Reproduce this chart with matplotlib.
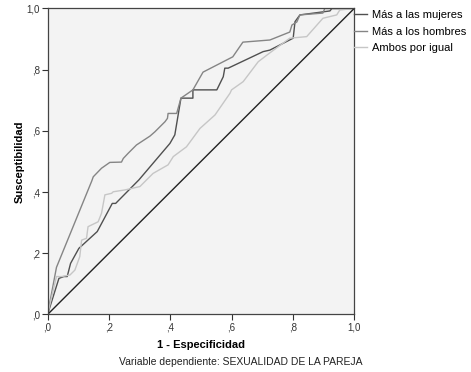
import matplotlib
matplotlib.use("Agg")
import matplotlib.pyplot as plt

plt.rcParams['font.family'] = ['Liberation Sans', 'DejaVu Sans']

# Data: ROC curves (1 - especificidad, susceptibilidad)
mujeres_x = [0, 0.037, 0.053, 0.064, 0.075, 0.102, 0.162, 0.211, 0.222, 0.298,
             0.399, 0.415, 0.435, 0.474, 0.474, 0.552, 0.573, 0.578, 0.589, 0.703,
             0.725, 0.801, 0.807, 0.823, 0.921, 0.927, 1.0]
mujeres_y = [0, 0.118, 0.124, 0.124, 0.167, 0.216, 0.271, 0.363, 0.363, 0.440,
             0.559, 0.587, 0.707, 0.707, 0.734, 0.734, 0.777, 0.805, 0.805, 0.859,
             0.864, 0.903, 0.957, 0.979, 0.992, 1.0, 1.0]

hombres_x = [0, 0.029, 0.144, 0.149, 0.176, 0.203, 0.241, 0.247, 0.263, 0.290,
             0.334, 0.350, 0.383, 0.391, 0.393, 0.421, 0.435, 0.474, 0.507, 0.604,
             0.637, 0.725, 0.790, 0.797, 0.813, 0.823, 0.898, 0.904, 1.0]
hombres_y = [0, 0.154, 0.436, 0.450, 0.478, 0.497, 0.498, 0.510, 0.527, 0.554,
             0.583, 0.597, 0.630, 0.641, 0.657, 0.657, 0.707, 0.734, 0.792, 0.842,
             0.890, 0.897, 0.923, 0.946, 0.956, 0.979, 0.985, 1.0, 1.0]

ambos_x = [0, 0.029, 0.046, 0.073, 0.089, 0.105, 0.111, 0.127, 0.132, 0.165,
           0.176, 0.187, 0.209, 0.214, 0.252, 0.301, 0.344, 0.393, 0.410, 0.453,
           0.497, 0.546, 0.595, 0.600, 0.638, 0.687, 0.725, 0.790, 0.845, 0.898,
           0.943, 0.953, 1.0]
ambos_y = [0, 0.124, 0.124, 0.129, 0.145, 0.189, 0.243, 0.249, 0.287, 0.303,
           0.331, 0.391, 0.396, 0.401, 0.407, 0.418, 0.461, 0.489, 0.516, 0.548,
           0.608, 0.652, 0.723, 0.734, 0.761, 0.826, 0.855, 0.903, 0.908, 0.968,
           0.979, 0.995, 1.0]

ref_x = [0, 1]
ref_y = [0, 1]

series_labels = ["Más a las mujeres", "Más a los hombres", "Ambos por igual"]
tick_vals = [0, 0.2, 0.4, 0.6, 0.8, 1.0]
tick_labels = [",0", ",2", ",4", ",6", ",8", "1,0"]

fig = plt.figure(figsize=(4.71, 3.72), dpi=100)
ax = fig.add_axes([0.101, 0.1546, 0.651, 0.8226])
ax.set_facecolor('#f3f3f3')

l1, = ax.plot(mujeres_x, mujeres_y, color='#505050', lw=1.0)
l2, = ax.plot(hombres_x, hombres_y, color='#858585', lw=1.0)
l3, = ax.plot(ambos_x, ambos_y, color='#c6c6c6', lw=1.0)
ax.plot(ref_x, ref_y, color='#222222', lw=1.0)

ax.set_xlim(0, 1)
ax.set_ylim(0, 1)
ax.set_xticks(tick_vals)
ax.set_xticklabels(tick_labels)
ax.set_yticks(tick_vals)
ax.set_yticklabels(tick_labels)
ax.tick_params(axis='both', direction='out', length=4, width=0.8, labelsize=7,
               colors='#333333', pad=1.5)
for s in ax.spines.values():
    s.set_color('#444444')
    s.set_linewidth(0.9)

ax.set_xlabel("1 - Especificidad", fontsize=8, fontweight='bold', labelpad=6)
ax.set_ylabel("Susceptibilidad", fontsize=8, fontweight='bold', labelpad=1)

leg = fig.legend([l1, l2, l3], series_labels, loc='upper left',
                 bbox_to_anchor=(0.742, 0.985), frameon=False, fontsize=8,
                 handlelength=1.2, handletextpad=0.4, labelspacing=0.6,
                 borderaxespad=0)

fig.text(0.512, 0.027, "Variable dependiente: SEXUALIDAD DE LA PAREJA",
         ha='center', va='center', fontsize=7.5, color='#222222')

fig.savefig("out.png", dpi=100, facecolor='white')
